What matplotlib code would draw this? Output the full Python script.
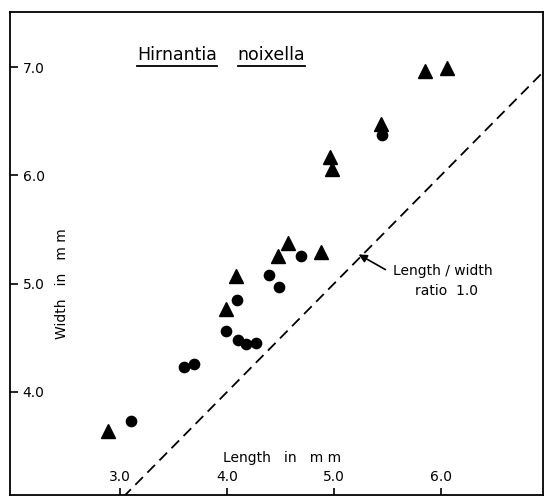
import matplotlib.pyplot as plt
from matplotlib.lines import Line2D

# shell dimensions (mm)
tri_length = [2.89, 3.99, 4.08, 4.48, 4.57, 4.88, 4.96, 4.98, 5.44, 5.85, 6.06]
tri_width = [3.64, 4.77, 5.07, 5.26, 5.38, 5.29, 6.17, 6.06, 6.47, 6.96, 6.99]
dot_length = [3.10, 3.60, 3.69, 3.99, 4.10, 4.18, 4.27, 4.09, 4.39, 4.49, 4.69, 5.45]
dot_width = [3.73, 4.23, 4.26, 4.56, 4.48, 4.44, 4.45, 4.85, 5.08, 4.97, 5.26, 6.37]

x_ticks = [3.0, 4.0, 5.0, 6.0]
y_ticks = [4.0, 5.0, 6.0, 7.0]
ratio = 1.0

fig = plt.figure(figsize=(5.45, 4.96), dpi=100)
ax = fig.add_axes([10 / 545, 1 / 496, 533 / 545, 483 / 496])
ax.set_xlim(1.972, 6.953)
ax.set_ylim(3.049, 7.508)

# length / width = 1.0 reference line
ax.plot([2, 7], [2 * ratio, 7 * ratio], color="black", lw=1.3, dashes=(6, 3.5))

ax.plot(tri_length, tri_width, "^", color="black", ms=10, mec="black")
ax.plot(dot_length, dot_width, "o", color="black", ms=7.4, mec="black")

# ticks and labels sit inside the frame
ax.set_xticks(x_ticks)
ax.set_xticklabels([f"{v:.1f}" for v in x_ticks])
ax.set_yticks(y_ticks)
ax.set_yticklabels([f"{v:.1f}" for v in y_ticks])
ax.tick_params(axis="x", direction="in", length=5, width=1.2, pad=-8, labelsize=10)
ax.tick_params(axis="y", direction="in", length=6, width=1.2, pad=-9, labelsize=10)
plt.setp(ax.get_yticklabels(), ha="left")
plt.setp(ax.get_xticklabels(), va="bottom")
for sp in ax.spines.values():
    sp.set_linewidth(1.3)

ax.text(4.51, 3.39, "Length   in   m m", fontsize=10, ha="center", va="center")
ax.text(2.46, 5.0, "Width   in   m m", fontsize=10, rotation=90,
        ha="center", va="center")

t1 = ax.text(3.16, 7.11, "Hirnantia", fontsize=12.5, ha="left", va="center")
t2 = ax.text(4.10, 7.11, "noixella", fontsize=12.5, ha="left", va="center")

ax.annotate("", xy=(5.23, 5.27), xytext=(5.48, 5.13),
            arrowprops=dict(arrowstyle="-|>", color="black", lw=1.2,
                            mutation_scale=12, shrinkA=0, shrinkB=0))
ax.text(6.02, 5.12, "Length / width", fontsize=10, ha="center", va="center")
ax.text(6.05, 4.93, "ratio  1.0", fontsize=10, ha="center", va="center")

# underline the species name
fig.canvas.draw()
renderer = fig.canvas.get_renderer()
for t in (t1, t2):
    bb = t.get_window_extent(renderer)
    y = bb.y0 - 1.5
    fig.add_artist(Line2D([bb.x0, bb.x1], [y, y], transform=None,
                          color="black", lw=1.3))

fig.savefig("out.png", dpi=100)
